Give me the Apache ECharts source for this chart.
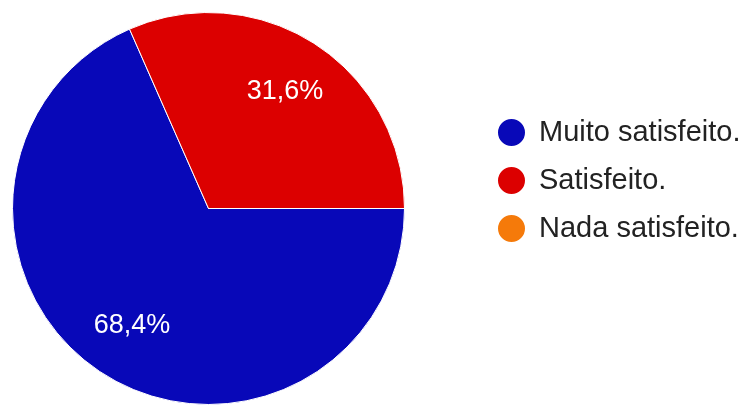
<!DOCTYPE html>
<html>
<head>
<meta charset="utf-8">
<script src="https://cdn.jsdelivr.net/npm/echarts@6/dist/echarts.min.js"></script>
<style>
html,body{margin:0;padding:0;background:#fff;}
#c{width:748px;height:407px;}
</style>
</head>
<body>
<div id="c"></div>
<script>
var categories = ['Muito satisfeito.', 'Satisfeito.', 'Nada satisfeito.'];
var values = [68.4, 31.6, 0];
var labels = ['68,4%', '31,6%', ''];
var colors = ['#0808b8', '#dc0000', '#f57a0a'];

var chart = echarts.init(document.getElementById('c'));
var data = categories.map(function (n, i) {
  return { name: n, value: values[i], itemStyle: { color: colors[i] } };
});
var labelData = categories.map(function (n, i) {
  return { name: n, value: values[i], label: { formatter: labels[i] } };
});
chart.setOption({
  animation: false,
  legend: {
    orient: 'vertical',
    left: 496,
    top: 117,
    padding: 0,
    icon: 'circle',
    itemWidth: 29,
    itemHeight: 29,
    itemGap: 17,
    data: categories,
    textStyle: {
      fontFamily: 'Liberation Sans, Arial, sans-serif',
      fontSize: 29,
      lineHeight: 29,
      color: '#222',
      padding: [0, 0, 0, 8]
    }
  },
  series: [
    {
      type: 'pie',
      center: [208.5, 208.5],
      radius: [0, 196],
      startAngle: 0,
      clockwise: true,
      minAngle: 0,
      avoidLabelOverlap: false,
      label: { show: false },
      labelLine: { show: false },
      emphasis: { disabled: true },
      itemStyle: { borderColor: '#fff', borderWidth: 1 },
      data: data
    },
    {
      type: 'pie',
      center: [208.5, 208.5],
      radius: [78, 196],
      startAngle: 0,
      clockwise: true,
      silent: true,
      avoidLabelOverlap: false,
      itemStyle: { color: 'rgba(0,0,0,0)', borderWidth: 0 },
      label: {
        show: true,
        position: 'inside',
        color: '#fff',
        fontFamily: 'Liberation Sans, Arial, sans-serif',
        fontSize: 27
      },
      labelLine: { show: false },
      emphasis: { disabled: true },
      data: labelData
    }
  ]
});
</script>
</body>
</html>
